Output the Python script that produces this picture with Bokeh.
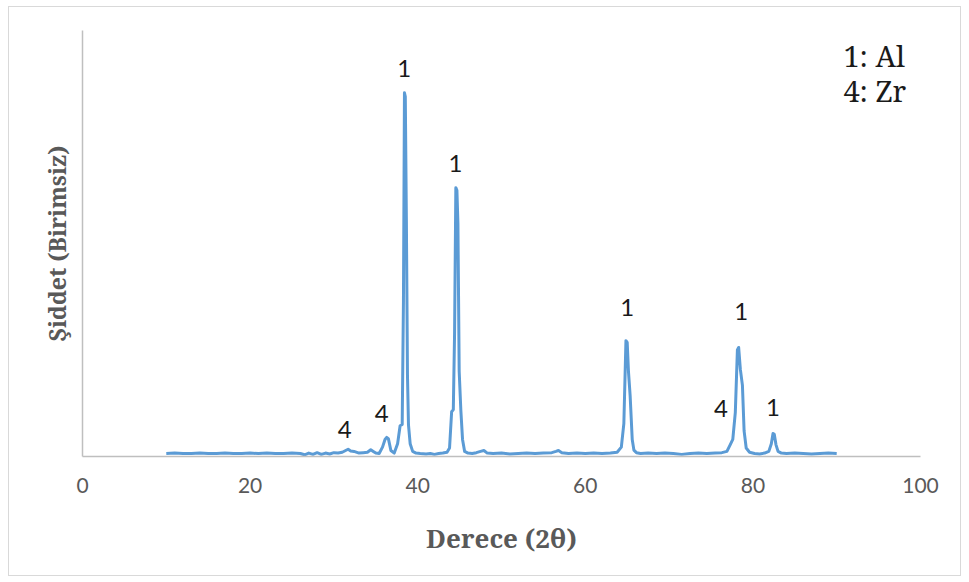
from bokeh.plotting import figure
from bokeh.models import ColumnDataSource, Range1d, FixedTicker, Label
from bokeh.core.properties import value
from bokeh.embed import file_html
from bokeh.resources import INLINE

# XRD pattern: 2-theta (degrees) and intensity (arbitrary units)
two_theta = (
    [10, 11, 12, 13, 14, 15, 16, 17, 18, 19, 20, 21, 22, 23, 24, 25, 26]
    + [26.5, 27, 27.5, 28, 28.5, 29, 29.5, 30, 30.5, 31]
    + [31.4, 31.7, 32.0, 32.4, 33, 33.5, 34, 34.4, 34.7, 35.0]
    + [35.4, 35.8, 36.1, 36.3, 36.5, 36.8, 37.2, 37.6, 37.9]
    + [38.15, 38.3, 38.42, 38.52, 38.65, 38.78, 38.9, 39.1, 39.4, 39.8]
    + [40.3, 41, 41.5, 42, 42.5, 43, 43.5, 43.8]
    + [44.05, 44.25, 44.4, 44.55, 44.68, 44.8, 44.95, 45.15, 45.35, 45.6]
    + [46, 46.5, 47, 47.5, 47.9, 48.3, 49, 50, 51, 52, 53, 54, 55, 56, 56.5, 56.8,
       57.2, 58, 59, 60, 61, 62, 63, 63.8]
    + [64.3, 64.6, 64.85, 65.0, 65.15, 65.35, 65.6, 65.8, 66.1, 66.6]
    + [67.5, 68.5, 69.5, 70.5, 71.5, 72.5, 73.5, 74.5, 75.5, 76.3, 76.9, 77.3]
    + [77.6, 77.9, 78.15, 78.3, 78.5, 78.75, 78.95, 79.2, 79.6, 80.2]
    + [80.8, 81.4, 81.9, 82.2, 82.4, 82.55, 82.75, 83.0, 83.4, 84, 85, 86, 87, 88, 89, 90]
)
intensity = (
    [7, 8, 7, 7, 8, 7, 7, 8, 7, 7, 8, 7, 8, 7, 7, 8, 7]
    + [4, 8, 5, 9, 5, 8, 6, 9, 8, 10]
    + [14, 17, 13, 12, 8, 9, 10, 16, 12, 8]
    + [7, 22, 40, 45, 42, 14, 8, 30, 72]
    + [75, 366, 854, 845, 554, 190, 74, 30, 12, 8]
    + [7, 6, 7, 5, 7, 8, 10, 20]
    + [105, 110, 289, 631, 625, 547, 200, 108, 40, 12]
    + [8, 7, 9, 12, 14, 8, 7, 8, 6, 7, 8, 7, 8, 9, 12, 14,
       9, 7, 8, 7, 8, 7, 8, 10]
    + [22, 77, 272, 268, 200, 143, 40, 15, 9, 7]
    + [8, 7, 8, 7, 5, 7, 8, 7, 8, 9, 12, 28]
    + [40, 103, 250, 256, 205, 167, 60, 20, 10, 7]
    + [6, 8, 12, 30, 54, 52, 28, 12, 8, 7, 8, 7, 6, 7, 8, 7]
)

# Phase markers above the peaks (1 = Al, 4 = Zr)
marker_x = [38.4, 44.5, 65.0, 78.6, 82.4, 31.3, 35.7, 76.2]
marker_y = [910, 688, 350, 341, 116, 64, 101, 113]
marker_text = ["1", "1", "1", "1", "1", "4", "4", "4"]

# Phase key
key_x = [90.8, 90.8]
key_y = [942, 860]
key_text = ["1: Al", "4: Zr"]

x_ticks = [0, 20, 40, 60, 80, 100]

p = figure(
    width=953, height=570,
    x_range=Range1d(0, 100), y_range=Range1d(0, 1000),
    output_backend="svg", toolbar_location=None,
    min_border_left=73, min_border_right=42,
    min_border_top=23, min_border_bottom=121,
    styles={"margin-left": "8px", "margin-top": "6px",
            "border": "1px solid #d9d9d9"},
)
p.outline_line_color = None
p.xgrid.visible = False
p.ygrid.visible = False
p.background_fill_color = "white"
p.border_fill_color = "white"

p.line(x="x", y="y", source=ColumnDataSource(dict(x=two_theta, y=intensity)),
       line_color="#5b9bd5", line_width=3, line_join="round")

p.text(x=marker_x, y=marker_y, text=marker_text,
       text_font=value("Lato"), text_font_size="24px", text_color="#1a1a1a",
       text_align="center", text_baseline="alphabetic")

# phase key in a serif face
for kx, ky, kt in zip(key_x, key_y, key_text):
    p.add_layout(Label(x=kx, y=ky, text=kt,
                       text_font="Noto Serif", text_font_size="29px",
                       text_color="#1a1a1a", text_align="left",
                       text_baseline="alphabetic"))

xa = p.xaxis[0]
xa.ticker = FixedTicker(ticks=x_ticks)
xa.major_tick_out = 0
xa.major_tick_in = 0
xa.minor_tick_out = 0
xa.minor_tick_in = 0
xa.axis_line_color = "#bfbfbf"
xa.axis_line_width = 1.5
xa.major_label_text_font = "Lato"
xa.major_label_text_font_size = "21px"
xa.major_label_text_color = "#595959"
xa.major_label_standoff = 21
xa.axis_label = "Derece (2θ)"
xa.axis_label_text_font = "Noto Serif"
xa.axis_label_text_font_style = "bold"
xa.axis_label_text_font_size = "26px"
xa.axis_label_text_color = "#595959"
xa.axis_label_standoff = 24

ya = p.yaxis[0]
ya.ticker = FixedTicker(ticks=[])
ya.major_tick_out = 0
ya.major_tick_in = 0
ya.minor_tick_out = 0
ya.minor_tick_in = 0
ya.major_label_text_font_size = "0px"
ya.axis_line_color = "#bfbfbf"
ya.axis_line_width = 1.5
ya.axis_label = "Şiddet (Birimsiz)"
ya.axis_label_text_font = "Noto Serif"
ya.axis_label_text_font_style = "bold"
ya.axis_label_text_font_size = "23px"
ya.axis_label_text_color = "#595959"
ya.axis_label_standoff = 10

open("out.html", "w").write(file_html(p, INLINE))
